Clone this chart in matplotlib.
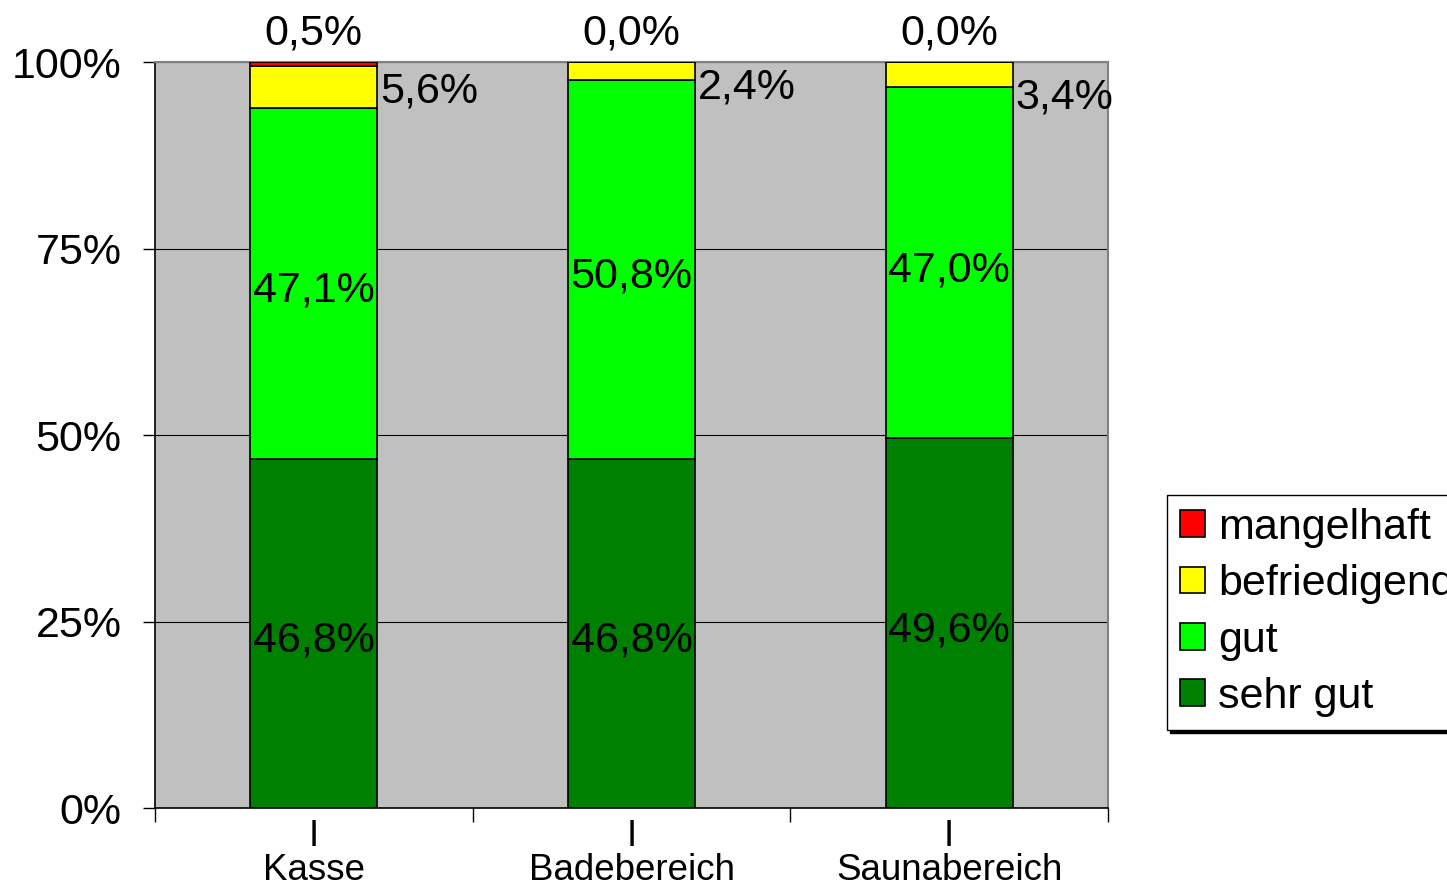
import matplotlib
matplotlib.use("Agg")
import matplotlib.pyplot as plt
import numpy as np

categories = ["Kasse", "Badebereich", "Saunabereich"]
series_names = ["sehr gut", "gut", "befriedigend", "mangelhaft"]
sehr_gut = [46.8, 46.8, 49.6]
gut = [47.1, 50.8, 47.0]
befriedigend = [5.6, 2.4, 3.4]
mangelhaft = [0.5, 0.0, 0.0]
yticks = [0, 25, 50, 75, 100]
ytick_labels = ["0%", "25%", "50%", "75%", "100%"]

colors = ["#008000", "#00FF00", "#FFFF00", "#FF0000"]
label_offset_befr = [-0.7, -2.2, -3.0]  # layout tweak for outside labels
inner_offset = -1.0

plt.rcParams["font.family"] = ["Liberation Sans", "DejaVu Sans"]

fig = plt.figure(figsize=(14.47, 8.88), dpi=100)
ax = fig.add_axes([155/1447, 1-808/888, (1108-155)/1447, (808-62)/888])
ax.set_facecolor("#C0C0C0")

x = np.arange(len(categories))
width = 0.4
values = [sehr_gut, gut, befriedigend, mangelhaft]
bottom = np.zeros(len(categories))
for vals, col, name in zip(values, colors, series_names):
    ax.bar(x, vals, width, bottom=bottom, color=col, edgecolor="black",
           linewidth=1.2, label=name, zorder=3)
    bottom = bottom + np.array(vals)

def fmt(v):
    return f"{v:.1f}%".replace(".", ",")

fs = 31
for i in range(len(categories)):
    ax.text(x[i], sehr_gut[i] / 2 + inner_offset, fmt(sehr_gut[i]), ha="center",
            va="center", fontsize=fs, zorder=5)
    ax.text(x[i], sehr_gut[i] + gut[i] / 2 + inner_offset, fmt(gut[i]), ha="center",
            va="center", fontsize=fs, zorder=5)
    yb = sehr_gut[i] + gut[i] + befriedigend[i] / 2 + label_offset_befr[i]
    ax.text(x[i] + width / 2 + 0.01, yb, fmt(befriedigend[i]), ha="left", va="center",
            fontsize=fs, zorder=5)
    ax.text(x[i], 103.8, fmt(mangelhaft[i]), ha="center", va="center",
            fontsize=fs, zorder=5, clip_on=False)

ax.set_xlim(-0.5, 2.5)
ax.set_ylim(0, 100)
ax.set_yticks(yticks)
ax.set_yticklabels(ytick_labels, fontsize=fs)
ax.yaxis.grid(True, color="black", linewidth=0.8, zorder=1)
ax.set_axisbelow(True)

ax.set_xticks(x)
ax.set_xticklabels(["I\n" + c for c in categories], fontsize=26.5, linespacing=0.95)
ax.set_xticks([-0.5, 0.5, 1.5, 2.5], minor=True)
ax.tick_params(axis="x", which="major", length=0, pad=8)
ax.tick_params(axis="x", which="minor", length=10, width=1, color="black")
ax.tick_params(axis="y", which="major", length=9, width=1, pad=15)

for s in ["top", "right"]:
    ax.spines[s].set_color("#808080")
    ax.spines[s].set_linewidth(1.5)
for s in ["left", "bottom"]:
    ax.spines[s].set_color("black")
    ax.spines[s].set_linewidth(1.2)

handles, labels = ax.get_legend_handles_labels()
leg = fig.legend(handles[::-1], labels[::-1], loc="upper left",
                 bbox_to_anchor=(1167/1447, 1-495/888), borderaxespad=0,
                 fontsize=fs, frameon=True, fancybox=False,
                 shadow={"color": "black", "alpha": 1.0},
                 handlelength=0.58, handleheight=0.58, handletextpad=0.3,
                 labelspacing=0.38, borderpad=0.3)
leg.get_frame().set_edgecolor("black")
leg.get_frame().set_linewidth(1.0)

fig.savefig("out.png", dpi=100)
